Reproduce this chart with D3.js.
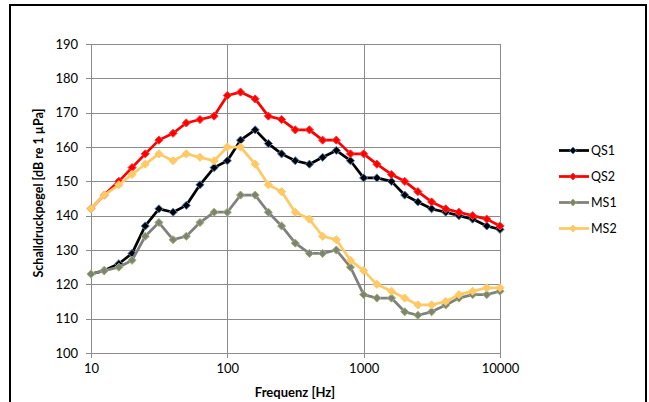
<!DOCTYPE html>
<html>
<head>
<meta charset="utf-8">
<script src="https://cdn.jsdelivr.net/npm/d3@7"></script>
<style>
  body { margin: 0; background: #fff; }
  svg text { font-family: Lato, "Liberation Sans", sans-serif; fill: #000; }
</style>
</head>
<body>
<div id="chart"></div>
<script>
// Data
const freqs = [10, 12.5, 16, 20, 25, 31.5, 40, 50, 63, 80, 100, 125, 160, 200, 250, 315,
    400, 500, 630, 800, 1000, 1250, 1600, 2000, 2500, 3150, 4000, 5000, 6300, 8000, 10000];
const qs1 = [123, 124, 126, 129, 137, 142, 141, 143, 149, 154, 156, 162, 165, 161, 158, 156,
    155, 157, 159, 156, 151, 151, 150, 146, 144, 142, 141, 140, 139, 137, 136];
const qs2 = [142, 146, 150, 154, 158, 162, 164, 167, 168, 169, 175, 176, 174, 169, 168, 165,
    165, 162, 162, 158, 158, 155, 152, 150, 147, 144, 142, 141, 140, 139, 137];
const ms1 = [123, 124, 125, 127, 134, 138, 133, 134, 138, 141, 141, 146, 146, 141, 137, 132,
    129, 129, 130, 125, 117, 116, 116, 112, 111, 112, 114, 116, 117, 117, 118];
const ms2 = [142, 146, 149, 152, 155, 158, 156, 158, 157, 156, 160, 160, 155, 149, 147, 141,
    139, 134, 133, 127, 124, 120, 118, 116, 114, 114, 115, 117, 118, 119, 119];
const xTicks = [10, 100, 1000, 10000];
const yTicks = [100, 110, 120, 130, 140, 150, 160, 170, 180, 190];

const series = [
    { name: 'QS1', values: qs1, line: '#000000', fill: '#000000', edge: '#4f81bd' },
    { name: 'QS2', values: qs2, line: '#ff0000', fill: '#ff0000', edge: '#ff3b3b' },
    { name: 'MS1', values: ms1, line: '#808080', fill: '#808080', edge: '#9bbb59' },
    { name: 'MS2', values: ms2, line: '#ffc966', fill: '#ffc966', edge: '#ffc966' },
];

const W = 649, H = 402;
const plot = { left: 91, right: 500, top: 44, bottom: 353 };

const svg = d3.select("#chart")
    .append("svg")
    .attr("width", W)
    .attr("height", H);

// outer frame
svg.append("rect")
    .attr("x", 10).attr("y", 5)
    .attr("width", 636).attr("height", 410)
    .attr("fill", "none")
    .attr("stroke", "#000")
    .attr("stroke-width", 2);

const x = d3.scaleLog()
    .domain([10, 10000])
    .range([plot.left, plot.right]);

const y = d3.scaleLinear()
    .domain([100, 190])
    .range([plot.bottom, plot.top]);

// grid
const grid = svg.append("g").attr("stroke", "#8c8c8c").attr("stroke-width", 1);
grid.selectAll(".hgrid")
    .data(yTicks)
    .enter().append("line")
    .attr("x1", plot.left - 5).attr("x2", plot.right)
    .attr("y1", d => Math.round(y(d)) + 0.5).attr("y2", d => Math.round(y(d)) + 0.5);
grid.selectAll(".vgrid")
    .data(xTicks)
    .enter().append("line")
    .attr("x1", d => Math.round(x(d)) + 0.5).attr("x2", d => Math.round(x(d)) + 0.5)
    .attr("y1", plot.top).attr("y2", plot.bottom + 5);

// axes labels
const yAxis = svg.append("g")
    .attr("transform", `translate(${plot.left},0)`)
    .call(d3.axisLeft(y).tickValues(yTicks).tickSize(0).tickPadding(13));
const xAxis = svg.append("g")
    .attr("transform", `translate(0,${plot.bottom})`)
    .call(d3.axisBottom(x).tickValues(xTicks).tickFormat(d3.format("d")).tickSize(0).tickPadding(11));
[yAxis, xAxis].forEach(a => {
    a.select(".domain").remove();
    a.selectAll("text").style("font-size", "13px").style("font-family", "Lato, sans-serif");
});

// lines
const line = d3.line()
    .x((d, i) => x(freqs[i]))
    .y(d => y(d));

const diamond = d3.symbol().type(d3.symbolDiamond2).size(42);

series.forEach(s => {
    const g = svg.append("g");
    g.append("path")
        .datum(s.values)
        .attr("fill", "none")
        .attr("stroke", s.line)
        .attr("stroke-width", 2.75)
        .attr("stroke-linejoin", "round")
        .attr("d", line);
    g.selectAll("path.marker")
        .data(s.values)
        .enter().append("path")
        .attr("class", "marker")
        .attr("transform", (d, i) => `translate(${x(freqs[i])},${y(d)})`)
        .attr("d", diamond)
        .attr("fill", s.fill)
        .attr("stroke", s.edge)
        .attr("stroke-width", 1);
});

// axis titles
svg.append("text")
    .attr("transform", "translate(43,193) rotate(-90)")
    .attr("text-anchor", "middle")
    .style("font-size", "12.5px")
    .style("font-weight", "bold")
    .text("Schalldruckpegel [dB re 1 µPa]");

svg.append("text")
    .attr("x", 295)
    .attr("y", 397)
    .attr("text-anchor", "middle")
    .style("font-size", "13px")
    .style("font-weight", "bold")
    .text("Frequenz [Hz]");

// legend
const legend = svg.append("g")
    .selectAll("g")
    .data(series)
    .enter().append("g")
    .attr("transform", (d, i) => `translate(559,${150.5 + i * 26})`);
legend.append("line")
    .attr("x1", 0).attr("x2", 30)
    .attr("stroke", d => d.line)
    .attr("stroke-width", 2.75);
legend.append("path")
    .attr("transform", "translate(14,0)")
    .attr("d", d3.symbol().type(d3.symbolDiamond2).size(30))
    .attr("fill", d => d.fill)
    .attr("stroke", d => d.edge)
    .attr("stroke-width", 1);
legend.append("text")
    .attr("x", 32)
    .attr("dy", "0.35em")
    .style("font-size", "12.5px")
    .text(d => d.name);
</script>
</body>
</html>
